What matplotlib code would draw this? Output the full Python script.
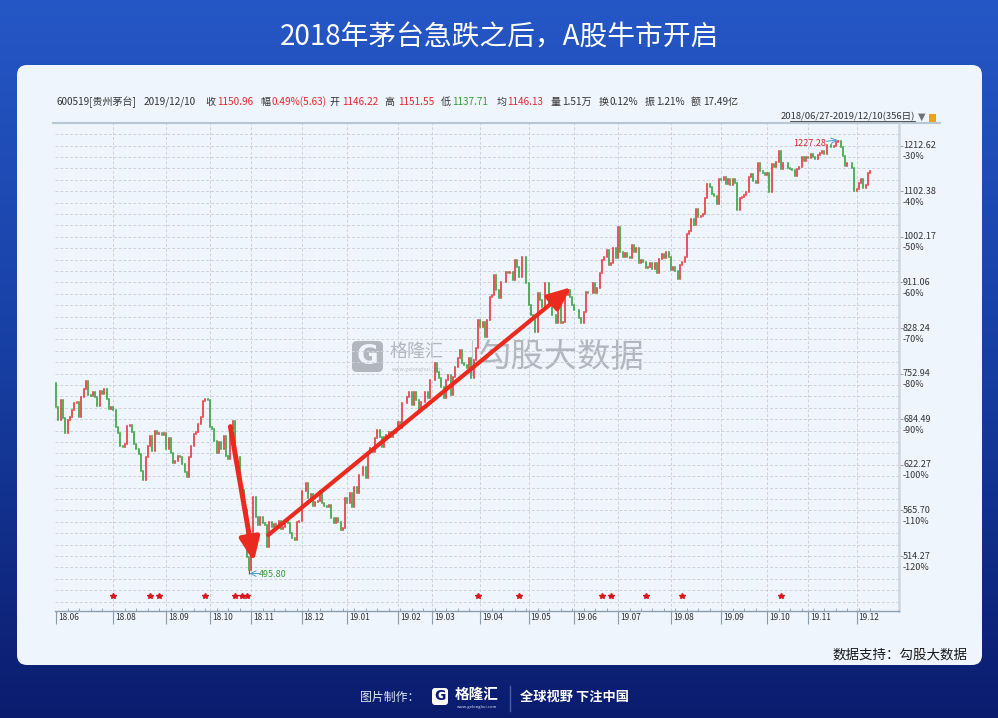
import numpy as np
import matplotlib.pyplot as plt
import matplotlib.transforms as mtransforms
from matplotlib.patches import FancyBboxPatch, Rectangle
from matplotlib.colors import LinearSegmentedColormap
from matplotlib.ticker import NullLocator, FixedLocator

plt.rcParams['font.family'] = ['Noto Sans CJK SC', 'DejaVu Sans']

W, H = 998, 718

title = '2018年茅台急跌之后，A股牛市开启'
stock_name = '600519[贵州茅台]'
last_date = '2019/12/10'
info_labels = ['收', '幅', '开', '高', '低', '均', '量', '换', '振', '额']
info_values = ['1150.96', '0.49%(5.63)', '1146.22', '1151.55', '1137.71',
               '1146.13', '1.51万', '0.12%', '1.21%', '17.49亿']
info_kinds = ['up', 'up', 'up', 'up', 'down', 'up', 'plain', 'plain', 'plain', 'plain']
date_range = '2018/06/27-2019/12/10(356日)'

# daily closes (open = previous close)
prev_close = 737.9
closes_2018 = [
    702.8, 683.5, 712.7, 685.9, 664.7, 683.5, 688.3, 697.9, 707.7, 710.2,
    688.3, 717.6, 728.7, 742.0, 720.2, 718.6, 725.2, 716.7, 703.8, 726.7,
    721.7, 728.7, 713.7, 698.9, 701.8, 697.9, 673.1, 665.6, 647.3, 645.5,
    650.0, 675.0, 676.4, 667.0, 650.0, 642.8, 636.6, 614.8, 602.9, 632.2,
    647.3, 661.0, 641.0, 668.4, 663.8, 664.7, 662.4, 665.6, 642.8, 657.8,
    638.4, 625.2, 627.8, 633.9, 632.2, 623.0, 613.5, 606.3, 632.2, 647.3,
    663.8, 667.0, 677.8, 687.3, 711.7, 713.7, 712.7, 673.1, 670.3, 654.6,
    637.5, 653.2, 642.8, 661.0, 633.9, 629.5, 670.3, 682.6, 633.9, 632.2,
    596.6, 590.4, 566.2, 513.6, 499.5, 519.0, 582.2, 558.4, 548.8, 558.4,
    550.7, 548.8, 524.5, 552.6, 546.1, 549.9, 545.0, 553.8, 543.8, 546.8,
    553.8, 550.7, 540.0, 533.7, 531.8, 552.6, 553.8, 589.6, 589.6, 599.6,
    580.2, 585.5, 571.0, 576.2, 577.4, 589.6, 574.2, 571.0, 570.2, 572.2,
    556.5, 550.7, 556.5, 552.6, 543.1, 545.0, 580.3,
]
closes_2019 = [
    574.2, 586.4, 570.3, 594.6, 586.4, 609.3, 609.3, 620.0, 605.0, 637.5, 644.2, 639.7,
    657.8, 669.4, 660.1, 646.4, 660.1, 662.4, 667.0, 660.1, 664.7, 669.4,
    681.1, 671.7, 707.7, 707.7, 717.6, 725.2, 705.3, 725.2, 712.7, 697.9, 710.2, 710.2,
    725.2, 715.2, 743.1,
    743.1, 769.4, 756.1, 745.7, 732.8, 715.2, 743.1, 750.9, 720.2, 748.3, 764.1, 777.5,
    791.2, 769.4, 766.7, 761.4, 777.5, 745.7, 774.8, 794.0, 842.4,
    830.7, 839.5, 813.5, 842.4, 884.5, 887.6, 925.5, 896.9, 881.4, 912.6, 912.6, 931.9,
    928.7, 931.9, 915.8, 955.0, 941.7, 922.2, 961.6, 961.6, 909.5,
    869.2, 851.2, 845.3, 822.1, 890.7, 878.3, 866.2, 909.5, 909.5, 869.2,
    851.2, 851.2, 836.6, 878.3, 836.6, 839.5, 887.6, 896.9, 884.5, 869.2,
    860.2, 860.2, 845.3, 836.6, 857.2, 893.8, 890.7, 890.7, 909.5, 890.7,
    900.0, 928.7, 955.0, 961.8, 975.3, 945.2, 948.5, 978.7, 958.4,
    1023.8, 971.9, 961.8, 968.5, 961.8, 958.4, 985.5, 971.9, 978.7, 948.5,
    955.1, 951.8, 938.6, 940.6, 949.8, 936.6, 949.8, 930.1, 956.4, 967.2,
    959.1, 971.2, 961.8,
    935.3, 940.6, 934.0, 917.3, 945.2, 951.8, 961.8, 1008.3, 1015.3, 1039.6,
    1027.4, 1061.6, 1044.0, 1046.9, 1051.3, 1086.3, 1119.3, 1113.1, 1096.2, 1091.6,
    1073.5, 1130.3,
    1128.7, 1135.0, 1119.3, 1130.3, 1117.0, 1131.1, 1122.4, 1060.1, 1086.3, 1090.1,
    1093.1, 1100.8, 1135.0, 1142.9, 1127.1, 1122.4, 1170.4, 1150.9, 1146.2, 1141.4,
    1146.2, 1101.5, 1167.1, 1160.6, 1172.0, 1200.1, 1154.2, 1170.4, 1168.7, 1156.6,
    1154.2, 1152.6, 1138.2, 1154.2, 1160.6, 1183.5, 1175.3, 1185.1,
    1181.8, 1191.8, 1183.5, 1178.5, 1190.1, 1195.1, 1200.1, 1191.8, 1213.5, 1214.4,
    1210.2, 1211.9, 1222.0, 1223.7, 1208.5, 1186.8, 1162.2, 1170.4, 1168.7, 1157.4,
    1102.3,
    1106.9, 1122.4, 1131.9, 1109.2, 1117.0, 1145.33, 1150.96,
]
closes = closes_2018 + closes_2019

month_days = [0, 25, 48, 67, 85, 107, 127, 149, 164, 185, 206, 226, 245, 268, 290, 310, 328, 349]
month_labels = ['18.06', '18.08', '18.09', '18.10', '18.11', '18.12', '19.01', '19.02', '19.03',
                '19.04', '19.05', '19.06', '19.07', '19.08', '19.09', '19.10', '19.11', '19.12']
axis_prices = [1212.62, 1102.38, 1002.17, 911.06, 828.24, 752.94, 684.49, 622.27, 565.70, 514.27]
axis_pcts = ['-30%', '-40%', '-50%', '-60%', '-70%', '-80%', '-90%', '-100%', '-110%', '-120%']
star_days = [25, 41, 45, 65, 78, 81, 83, 184, 202, 238, 242, 257, 273, 316]
low_day, low_price = 84, 495.80
high_day, high_price = 341, 1227.28

RED = '#e4282e'
GREEN = '#2a9b31'
TXT = '#333333'
WM = '#b2b6be'

fig = plt.figure(figsize=(W / 100, H / 100), dpi=100)

# background in pixel coordinates
bg = fig.add_axes([0, 0, 1, 1])
grad = np.linspace(0, 1, 256).reshape(-1, 1)
cmap = LinearSegmentedColormap.from_list('bgblue', ['#2557c6', '#173fa3', '#0b1c6e'])
bg.imshow(grad, cmap=cmap, aspect='auto', extent=[0, W, H, 0], zorder=0)
bg.set_xlim(0, W)
bg.set_ylim(H, 0)
bg.axis('off')

bg.add_patch(FancyBboxPatch((17, 65), 965, 600, boxstyle='round,pad=0,rounding_size=10',
                            fc='#eef5fc', ec='none', zorder=1))
bg.text(499, 37, title, color='white', fontsize=20, ha='center', va='center', zorder=2)

# info bar
bg.text(57, 102, stock_name, fontsize=7.2, color=TXT, va='center', zorder=2)
bg.text(144, 102, last_date, fontsize=7.2, color=TXT, va='center', zorder=2)
lab_x = [205.7, 260.7, 330, 384.3, 440.7, 496.7, 550.7, 598.3, 644.3, 690.7]
val_x = [216.7, 271.7, 342.3, 397.7, 452.3, 507.3, 562.3, 609.3, 655.7, 702.7]
kind_col = {'up': RED, 'down': '#3a9a3a', 'plain': TXT}
for lx, vx, lab, val, kind in zip(lab_x, val_x, info_labels, info_values, info_kinds):
    bg.text(lx, 102, lab, fontsize=7.2, color=TXT, va='center', zorder=2)
    bg.text(vx, 102, val, fontsize=7.2, color=kind_col[kind], va='center', zorder=2)

bg.text(915, 116.5, date_range, fontsize=6.8, color=TXT, ha='right', va='center', zorder=2)
bg.plot([790, 915], [121, 121], color=TXT, lw=0.6, zorder=2)
bg.text(922, 116.5, '▼', fontsize=7, color='#6e7379', ha='center', va='center', zorder=2,
        family='DejaVu Sans')
bg.add_patch(Rectangle((929, 114), 7, 8, fc='#e9a21a', ec='none', zorder=2))
bg.plot([53, 940], [123, 123], color='#b9c7d5', lw=1.5, zorder=2)

# watermark
bg.add_patch(FancyBboxPatch((352, 341), 31, 31, boxstyle='round,pad=0,rounding_size=5',
                            fc=WM, ec='none', zorder=2))
bg.text(367.5, 357, 'G', fontsize=19, fontweight='heavy', color='#eef5fc', ha='center',
        va='center', family='DejaVu Sans', zorder=2)
bg.text(417, 352, '格隆汇', fontsize=13, color=WM, ha='center', va='center', zorder=2)
bg.text(417, 369, 'www.gelonghui.com', fontsize=3.8, color='#b8bcc4', ha='center',
        va='center', zorder=2)
bg.plot([472, 472], [340, 375], color='#c6cad0', lw=0.8, zorder=2)
bg.text(561, 357, '勾股大数据', fontsize=24, color=WM, ha='center', va='center', zorder=2)

# footer
bg.text(968, 655, '数据支持：勾股大数据', ha='right', va='center', fontsize=9.7,
        color='#1a1a1a', zorder=2)
bg.text(360, 697, '图片制作：', ha='left', va='center', fontsize=8.6, color='#e2e8f6', zorder=2)
bg.add_patch(FancyBboxPatch((432, 688), 16, 17, boxstyle='round,pad=0,rounding_size=3',
                            fc='white', ec='none', zorder=2))
bg.text(440, 696.5, 'G', fontsize=10, fontweight='heavy', color='#0b1c6e', ha='center',
        va='center', family='DejaVu Sans', zorder=3)
bg.text(477, 694, '格隆汇', ha='center', va='center', fontsize=10.5, fontweight='bold',
        color='white', zorder=2)
bg.text(477, 707, 'www.gelonghui.com', ha='center', va='center', fontsize=3,
        color='#dfe5f3', zorder=2)
bg.plot([510, 510], [686, 711], color='#4b5fa6', lw=1, zorder=2)
bg.text(520, 697, '全球视野 下注中国', ha='left', va='center', fontsize=9.5,
        fontweight='bold', color='white', zorder=2)

# price chart
ax = fig.add_axes([55 / W, 1 - 611 / H, (899 - 55) / W, (611 - 123) / H])
ax.patch.set_alpha(0)
ax.set_yscale('log')
x0, x1 = -0.5, 367.5
y0, y1 = 458.5, 1271.5
ax.set_xlim(x0, x1)
ax.set_ylim(y0, y1)

# dashed grid: four lines per 10% step of the price scale
levels = axis_prices[0] * 1.1 ** (-np.arange(-4, 46) / 4)
levels = levels[(levels > y0) & (levels < y1)]
ax.hlines(levels, x0, x1, colors='#cdd2d9', linestyles=(0, (3, 2)), lw=0.7, zorder=1)
ax.vlines(month_days[1:], 0, 1, transform=ax.get_xaxis_transform(), colors='#cdd2d9',
          linestyles=(0, (3, 2)), lw=0.7, zorder=1)

opens = np.array([prev_close] + closes[:-1])
cl = np.array(closes)
days = np.arange(len(cl))
cols = [RED if c >= o else GREEN for o, c in zip(opens, cl)]
lc = ax.vlines(days, np.minimum(opens, cl), np.maximum(opens, cl), colors=cols, lw=1.1, zorder=3)
lc.set_capstyle('projecting')
ax.vlines(low_day, low_price, min(opens[low_day], cl[low_day]), colors=RED, lw=0.9, zorder=3)
ax.vlines(high_day, max(opens[high_day], cl[high_day]), high_price, colors=RED, lw=0.9, zorder=3)

# extreme labels
ax.annotate('', xy=(low_day + 0.3, low_price), xytext=(7.5, 0), textcoords='offset points',
            arrowprops=dict(arrowstyle='->', color='#4a9fd6', lw=0.7, shrinkA=0, shrinkB=0),
            zorder=4)
ax.annotate('495.80', xy=(low_day, low_price), xytext=(7.5, -0.8), textcoords='offset points',
            ha='left', va='center', fontsize=6.5, color='#3a9a3a', zorder=4)
ax.annotate('', xy=(high_day - 0.3, high_price), xytext=(-8, -1), textcoords='offset points',
            arrowprops=dict(arrowstyle='->', color='#4a9fd6', lw=0.7, shrinkA=0, shrinkB=0),
            zorder=4)
ax.annotate('1227.28', xy=(high_day, high_price), xytext=(-9, -2.5), textcoords='offset points',
            ha='right', va='center', fontsize=6.5, color='#d9252b', zorder=4)

# trend arrows
ax.annotate('', xy=(86.2, 508.3), xytext=(76, 674),
            arrowprops=dict(arrowstyle='-|>,head_length=0.7,head_width=0.3', mutation_scale=20,
                            color='#ea2a1e', lw=3.6, shrinkA=0, shrinkB=0), zorder=5)
ax.annotate('', xy=(224.5, 902), xytext=(92.5, 537.5),
            arrowprops=dict(arrowstyle='-|>,head_length=0.7,head_width=0.3', mutation_scale=20,
                            color='#ea2a1e', lw=3.0, shrinkA=0, shrinkB=0), zorder=5)

ax.plot(star_days, [0.031] * len(star_days), transform=ax.get_xaxis_transform(), ls='none',
        marker='*', ms=4, color='#d8141c', clip_on=False, zorder=4)

# spines and ticks
ax.spines['left'].set_visible(False)
ax.spines['top'].set_color('#b9c7d5')
ax.spines['top'].set_linewidth(1.2)
ax.spines['right'].set_color('#cfd6de')
ax.spines['right'].set_linewidth(1.8)
ax.spines['bottom'].set_color('#8c9fb2')
ax.spines['bottom'].set_linewidth(1.0)

ax.xaxis.set_major_locator(FixedLocator(month_days))
ax.xaxis.set_minor_locator(FixedLocator(list(range(0, 360, 5))))
ax.tick_params(axis='x', which='major', length=9, width=0.8, color='#8c9aa8', direction='out',
               labelbottom=False)
ax.tick_params(axis='x', which='minor', length=2, width=0.6, color='#8c9aa8', direction='in')
ax.yaxis.tick_right()
ax.yaxis.set_major_locator(FixedLocator(axis_prices))
ax.yaxis.set_minor_locator(NullLocator())
ax.tick_params(axis='y', which='major', length=3, width=0.7, color='#9aa4ae',
               labelright=False, labelleft=False, left=False)

lab_tr = mtransforms.offset_copy(ax.get_xaxis_transform(), fig=fig, x=2, y=-6, units='dots')
for d, lab in zip(month_days, month_labels):
    ax.text(d, 0, lab, transform=lab_tr, ha='left', va='center', fontsize=6, color=TXT)

ytr = mtransforms.blended_transform_factory(ax.transAxes, ax.transData)
p_tr = mtransforms.offset_copy(ytr, fig=fig, x=4, y=0, units='dots')
q_tr = mtransforms.offset_copy(ytr, fig=fig, x=4, y=-11, units='dots')
for p, q in zip(axis_prices, axis_pcts):
    ax.text(1.0, p, f'{p:.2f}', transform=p_tr, ha='left', va='center', fontsize=6.5, color=TXT)
    ax.text(1.0, p, q, transform=q_tr, ha='left', va='center', fontsize=6.5, color=TXT)

fig.savefig('out.png', dpi=100)
